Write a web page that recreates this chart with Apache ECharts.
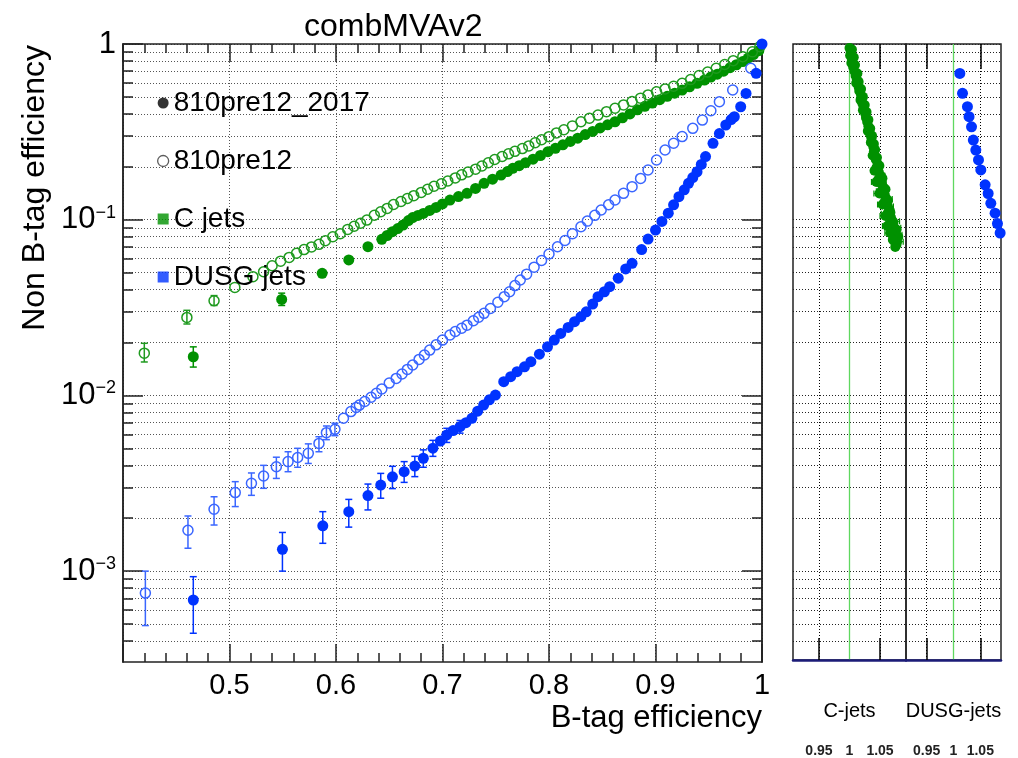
<!DOCTYPE html>
<html><head><meta charset="utf-8">
<script src="https://cdn.jsdelivr.net/npm/echarts@6/dist/echarts.min.js"></script>
<style>html,body{margin:0;padding:0;background:#fff}#c{width:1018px;height:758px}</style>
</head><body><div id="c"></div>
<script>
// ---------- data ----------
const xTickLabels = [0.5, 0.6, 0.7, 0.8, 0.9, 1];
const yMajor = [1e-3, 1e-2, 1e-1, 1];
const yMinor = [4e-4,5e-4,6e-4,7e-4,8e-4,9e-4, 2e-3,3e-3,4e-3,5e-3,6e-3,7e-3,8e-3,9e-3,
                0.02,0.03,0.04,0.05,0.06,0.07,0.08,0.09, 0.2,0.3,0.4,0.5,0.6,0.7,0.8,0.9];
const ratioTicks = [0.95, 1.05];
const ratioLabels = [0.95, 1, 1.05];
const legendNames = ['810pre12_2017', '810pre12', 'C jets', 'DUSG jets'];
const panelNames = ['C-jets', 'DUSG-jets'];

// C jets, 810pre12 (open)
const cOld = [[0.420,0.0174],[0.460,0.0278],[0.4855,0.0346],[0.505,0.0412],[0.522,0.0474],[0.532,0.0506],
 [0.540,0.0547],[0.548,0.0581],[0.556,0.0610],[0.563,0.0644],[0.570,0.0676],[0.577,0.0700],[0.584,0.0724],
 [0.590,0.0759],[0.597,0.0800],[0.604,0.0832],[0.611,0.0881],[0.617,0.0918],[0.623,0.0955],[0.629,0.0995],
 [0.636,0.106],[0.642,0.111],[0.648,0.116],[0.654,0.122],[0.661,0.127],[0.667,0.132],[0.673,0.137],
 [0.680,0.143],[0.686,0.149],[0.692,0.155],[0.699,0.160],[0.705,0.166],[0.712,0.173],[0.718,0.180],
 [0.724,0.187],[0.731,0.194],[0.737,0.202],[0.743,0.211],[0.749,0.220],[0.756,0.229],[0.762,0.237],
 [0.768,0.245],[0.775,0.254],[0.781,0.263],[0.787,0.274],[0.793,0.285],[0.800,0.297],[0.807,0.312],
 [0.814,0.325],[0.822,0.342],[0.830,0.361],[0.838,0.378],[0.846,0.394],[0.854,0.412],[0.862,0.431],
 [0.870,0.450],[0.878,0.470],[0.886,0.492],[0.893,0.513],[0.901,0.535],[0.909,0.555],[0.917,0.575],
 [0.925,0.597],[0.933,0.627],[0.941,0.661],[0.949,0.692],[0.957,0.728],[0.965,0.764],[0.973,0.804],
 [0.982,0.847],[0.991,0.902],[0.998,0.966]];
// C jets, 810pre12_2017 (filled)
const cNew = [[0.466,0.0166],[0.549,0.0352],[0.587,0.0495],[0.612,0.0590],[0.630,0.0702],[0.643,0.0773],
 [0.648,0.0813],[0.653,0.0855],[0.658,0.0891],[0.663,0.0933],[0.668,0.0989],[0.672,0.1028],[0.677,0.1057],
 [0.682,0.1086],[0.688,0.113],[0.694,0.1175],[0.700,0.123],[0.707,0.1294],[0.715,0.1355],[0.723,0.1413],
 [0.731,0.1507],[0.739,0.161],[0.747,0.170],[0.755,0.1795],[0.761,0.188],[0.766,0.196],[0.772,0.203],
 [0.778,0.211],[0.785,0.221],[0.792,0.232],[0.799,0.244],[0.806,0.255],[0.813,0.267],[0.820,0.279],
 [0.827,0.291],[0.834,0.305],[0.841,0.318],[0.848,0.333],[0.855,0.347],[0.862,0.361],[0.869,0.380],
 [0.876,0.400],[0.883,0.422],[0.890,0.442],[0.897,0.461],[0.904,0.482],[0.911,0.504],[0.918,0.525],
 [0.925,0.547],[0.932,0.571],[0.939,0.597],[0.946,0.624],[0.952,0.649],[0.958,0.673],[0.964,0.700],
 [0.970,0.733],[0.976,0.762],[0.982,0.794],[0.987,0.832],[0.992,0.871],[0.997,0.916]];
// DUSG jets, 810pre12 (open)
const lOld = [[0.421,7.5e-4],[0.461,1.71e-3],[0.4855,2.25e-3],[0.5054,2.80e-3],[0.5206,3.16e-3],[0.532,3.48e-3],
 [0.544,3.93e-3],[0.555,4.20e-3],[0.564,4.43e-3],[0.574,4.68e-3],[0.584,5.33e-3],[0.591,6.14e-3],[0.599,6.41e-3],
 [0.607,7.41e-3],[0.614,8.09e-3],[0.619,8.55e-3],[0.622,8.81e-3],[0.627,9.23e-3],[0.633,9.77e-3],[0.638,1.028e-2],
 [0.643,1.089e-2],[0.650,1.175e-2],[0.6565,1.250e-2],[0.662,1.324e-2],[0.667,1.406e-2],[0.672,1.489e-2],
 [0.678,1.603e-2],[0.683,1.698e-2],[0.688,1.811e-2],[0.694,1.941e-2],[0.700,2.065e-2],[0.707,2.208e-2],
 [0.712,2.312e-2],[0.718,2.410e-2],[0.723,2.512e-2],[0.729,2.661e-2],[0.734,2.786e-2],[0.739,2.931e-2],
 [0.745,3.126e-2],[0.752,3.388e-2],[0.758,3.648e-2],[0.763,3.890e-2],[0.768,4.217e-2],[0.773,4.539e-2],
 [0.779,4.898e-2],[0.786,5.370e-2],[0.793,5.861e-2],[0.800,6.383e-2],[0.808,7.015e-2],[0.815,7.621e-2],
 [0.822,8.318e-2],[0.830,9.120e-2],[0.836,9.817e-2],[0.843,0.1059],[0.849,0.1135],[0.856,0.1216],
 [0.862,0.1294],[0.870,0.1413],[0.878,0.1542],[0.886,0.1718],[0.893,0.1919],[0.901,0.2188],[0.909,0.2495],
 [0.917,0.2723],[0.925,0.2972],[0.935,0.3311],[0.944,0.3690],[0.952,0.4169],[0.960,0.4699],[0.9725,0.5470],
 [0.9895,0.7278]];
// DUSG jets, 810pre12_2017 (filled)
const lNew = [[0.466,6.85e-4],[0.5497,1.33e-3],[0.5876,1.81e-3],[0.612,2.18e-3],[0.630,2.69e-3],[0.642,3.09e-3],
 [0.653,3.44e-3],[0.664,3.68e-3],[0.674,3.96e-3],[0.682,4.39e-3],[0.691,5.01e-3],[0.698,5.50e-3],[0.704,5.96e-3],
 [0.710,6.31e-3],[0.7165,6.64e-3],[0.722,7.00e-3],[0.7276,7.41e-3],[0.733,8.13e-3],[0.7386,8.81e-3],
 [0.744,9.44e-3],[0.7497,1.005e-2],[0.7575,1.197e-2],[0.764,1.279e-2],[0.770,1.365e-2],[0.777,1.455e-2],
 [0.783,1.556e-2],[0.791,1.718e-2],[0.7986,1.892e-2],[0.805,2.065e-2],[0.811,2.254e-2],[0.818,2.438e-2],
 [0.824,2.630e-2],[0.830,2.805e-2],[0.835,2.992e-2],[0.841,3.311e-2],[0.846,3.648e-2],[0.852,3.890e-2],
 [0.857,4.159e-2],[0.865,4.645e-2],[0.872,5.248e-2],[0.878,5.649e-2],[0.887,6.761e-2],[0.893,7.762e-2],
 [0.900,8.730e-2],[0.906,9.772e-2],[0.912,0.1089],[0.917,0.1216],[0.922,0.1352],[0.927,0.1479],[0.931,0.1611],
 [0.935,0.1738],[0.939,0.1875],[0.943,0.2065],[0.947,0.2286],[0.954,0.2723],[0.960,0.3090],[0.966,0.3459],
 [0.971,0.3715],[0.974,0.3855],[0.980,0.4395],[0.985,0.5236],[0.9945,0.6808],[1.0,1.0]];

// vertical error bars: [x, low, high]
const cOldErr = [[0.420,0.0155,0.0198],[0.460,0.0255,0.0305],[0.4855,0.0325,0.0370]];
const cNewErr = [[0.466,0.0145,0.0189],[0.549,0.0325,0.0382]];
const lOldErr = [[0.421,4.9e-4,1.0e-3],[0.461,1.35e-3,2.06e-3],[0.4855,1.83e-3,2.65e-3],[0.5054,2.33e-3,3.23e-3],
 [0.5206,2.70e-3,3.62e-3],[0.532,2.96e-3,4.0e-3],[0.544,3.37e-3,4.45e-3],[0.555,3.68e-3,4.78e-3],
 [0.564,3.90e-3,5.0e-3],[0.574,4.10e-3,5.30e-3],[0.584,4.78e-3,5.82e-3],[0.591,5.6e-3,6.7e-3],[0.599,5.9e-3,6.95e-3]];
const lNewErr = [[0.466,4.43e-4,9.3e-4],[0.5497,1.0e-3,1.66e-3],[0.5876,1.44e-3,2.18e-3],[0.612,1.78e-3,2.56e-3],
 [0.630,2.23e-3,3.13e-3],[0.642,2.6e-3,3.6e-3],[0.653,2.95e-3,3.95e-3],[0.664,3.2e-3,4.2e-3],[0.674,3.45e-3,4.5e-3],
 [0.682,3.9e-3,4.9e-3],[0.691,4.5e-3,5.55e-3],[0.704,5.4e-3,6.5e-3],[0.7165,6.1e-3,7.2e-3]];

// ratio panels: [ratio, non-b efficiency]
const cRatio = [[1.000,0.95],[1.002,0.90],[1.001,0.86],[1.004,0.82],[1.003,0.78],[1.006,0.74],[1.008,0.70],
 [1.010,0.66],[1.012,0.63],[1.011,0.60],[1.015,0.57],[1.016,0.54],[1.019,0.51],[1.018,0.48],[1.021,0.46],
 [1.023,0.44],[1.022,0.42],[1.026,0.40],[1.027,0.38],[1.029,0.36],[1.031,0.34],[1.030,0.32],[1.034,0.305],
 [1.036,0.29],[1.035,0.275],[1.039,0.26],[1.040,0.245],[1.038,0.232],[1.043,0.22],[1.046,0.208],[1.044,0.197],
 [1.048,0.187],[1.051,0.178],[1.047,0.169],[1.053,0.16],[1.056,0.152],[1.052,0.145],[1.058,0.138],[1.061,0.131],
 [1.057,0.125],[1.063,0.119],[1.066,0.113],[1.062,0.108],[1.068,0.103],[1.071,0.098],[1.066,0.094],[1.073,0.09],
 [1.070,0.086],[1.076,0.082],[1.074,0.078],[1.078,0.075],[1.077,0.072],
 [1.004,0.93],[1.007,0.84],[1.009,0.76],[1.013,0.68],[1.015,0.61],[1.019,0.555],[1.022,0.50],[1.025,0.45],
 [1.028,0.41],[1.031,0.37],[1.034,0.33],[1.037,0.30],[1.040,0.27],[1.042,0.25],[1.045,0.226],[1.049,0.203],
 [1.041,0.19],[1.054,0.172],[1.044,0.164],[1.059,0.149],[1.049,0.141],[1.063,0.128],[1.054,0.122],[1.067,0.110],
 [1.059,0.105],[1.072,0.096],[1.062,0.092],[1.077,0.088],[1.067,0.084],[1.080,0.080],[1.071,0.077],[1.075,0.070]];
// horizontal error bars: [y, low, high]
const cRatioErr = [[0.197,1.038,1.050],[0.178,1.044,1.058],[0.160,1.046,1.060],[0.145,1.044,1.060],
 [0.131,1.052,1.070],[0.119,1.054,1.072],[0.108,1.052,1.072],[0.098,1.060,1.082],[0.090,1.062,1.084],
 [0.082,1.066,1.086],[0.075,1.068,1.088],[0.164,1.036,1.052],[0.141,1.040,1.058],[0.122,1.046,1.062],
 [0.105,1.050,1.068],[0.092,1.054,1.070],[0.084,1.058,1.076]];
const lRatio = [[1.0118,0.68],[1.0168,0.524],[1.026,0.44],[1.029,0.386],[1.0336,0.338],[1.037,0.284],
 [1.0416,0.249],[1.0466,0.219],[1.051,0.192],[1.059,0.158],[1.0646,0.141],[1.0696,0.124],[1.0776,0.109],
 [1.082,0.095],[1.087,0.084]];

// ---------- style ----------
const FONT = 'Liberation Sans, Arial, Helvetica, sans-serif';
const GREEN = '#009100', GREEN_O = '#1f9a1f', BLUE = '#0033ff', BLUE_O = '#3a66ff';
const FRAME = '#222';
const DOT = {color: '#555', type: [1, 2], width: 1};
const Y_MIN = 3.04e-4, Y_MAX = 1;
const Y_MIN_R = 3.12e-4;

function vErr(color) {
  return function (params, api) {
    const x = api.value(0), lo = api.value(1), hi = api.value(2);
    const a = api.coord([x, lo]), b = api.coord([x, hi]);
    const w = 3.5, st = {stroke: color, lineWidth: 1.5};
    return {type: 'group', children: [
      {type: 'line', shape: {x1: a[0], y1: a[1], x2: b[0], y2: b[1]}, style: st},
      {type: 'line', shape: {x1: a[0]-w, y1: a[1], x2: a[0]+w, y2: a[1]}, style: st},
      {type: 'line', shape: {x1: b[0]-w, y1: b[1], x2: b[0]+w, y2: b[1]}, style: st}
    ]};
  };
}
function hErr(color) {
  return function (params, api) {
    const y = api.value(0), lo = api.value(1), hi = api.value(2);
    const a = api.coord([lo, y]), b = api.coord([hi, y]);
    const w = 3, st = {stroke: color, lineWidth: 1.2};
    return {type: 'group', children: [
      {type: 'line', shape: {x1: a[0], y1: a[1], x2: b[0], y2: b[1]}, style: st},
      {type: 'line', shape: {x1: a[0], y1: a[1]-w, x2: a[0], y2: a[1]+w}, style: st},
      {type: 'line', shape: {x1: b[0], y1: b[1]-w, x2: b[0], y2: b[1]+w}, style: st}
    ]};
  };
}

const chart = echarts.init(document.getElementById('c'), null, {renderer: 'canvas'});

const mainX = {
  type: 'value', gridIndex: 0, min: 0.4, max: 1.0, interval: 0.1,
  axisLine: {show: true, onZero: false, lineStyle: {color: FRAME, width: 1.5}},
  axisTick: {show: true, inside: true, length: 18, lineStyle: {color: FRAME, width: 1.5}},
  minorTick: {show: true, splitNumber: 5, length: 9, lineStyle: {color: FRAME, width: 1.5}},
  splitLine: {show: true, lineStyle: DOT},
  axisLabel: {show: true, showMinLabel: false, fontSize: 29, fontFamily: FONT, color: '#000', margin: 9,
    formatter: v => (xTickLabels.some(t => Math.abs(t - v) < 1e-6) ? String(+v.toFixed(1)) : '')}
};
const mainXTop = Object.assign({}, mainX, {position: 'top', axisLabel: {show: false}, splitLine: {show: false}});

function yAx(pos, ticks, len, labels, split) {
  return {
    type: 'log', gridIndex: 0, position: pos, min: Y_MIN, max: Y_MAX,
    axisLine: {show: true, onZero: false, lineStyle: {color: FRAME, width: 1.5}},
    axisTick: {show: true, inside: true, length: len, customValues: ticks, lineStyle: {color: FRAME, width: 1.5}},
    minorTick: {show: false},
    splitLine: {show: split, lineStyle: DOT},
    axisLabel: labels ? {
      show: true, customValues: yMajor, margin: 7, fontFamily: FONT, color: '#000',
      formatter: v => (v > 0.5 ? '{b|1}' : '{b|10}{s|\u2212' + Math.round(-Math.log10(v)) + '}'),
      rich: {b: {fontSize: 31, fontFamily: FONT, color: '#000', lineHeight: 32},
             s: {fontSize: 18, fontFamily: FONT, color: '#000', lineHeight: 13, verticalAlign: 'top'}}
    } : {show: false}
  };
}

function ratioGrid(gi, min, max, name) {
  const xs = [
    {type: 'value', gridIndex: gi, min: min, max: max, position: 'bottom',
     axisLine: {show: true, onZero: false, lineStyle: {color: '#1c1c78', width: 2.5}},
     axisTick: {show: true, inside: true, length: 22, customValues: ratioTicks, lineStyle: {color: '#000', width: 1.5}},
     splitLine: {show: true, lineStyle: {color: '#000', type: [1, 2], width: 1}},
     axisLabel: {show: true, customValues: ratioLabels, margin: 84, fontSize: 14, fontWeight: 'bold', fontFamily: FONT, color: '#222',
       formatter: v => String(v)}},
    {type: 'value', gridIndex: gi, min: min, max: max, position: 'top',
     axisLine: {show: false},
     axisTick: {show: true, inside: true, length: 25, customValues: ratioTicks, lineStyle: {color: '#000', width: 1.5}},
     splitLine: {show: false}, axisLabel: {show: false}},
    {type: 'value', gridIndex: gi, min: min, max: max, position: 'bottom',
     axisLine: {show: false}, axisTick: {show: false, customValues: [1]},
     splitLine: {show: true, lineStyle: {color: '#5fd85f', type: 'solid', width: 1.3}}, axisLabel: {show: false},
     name: name, nameLocation: 'middle', nameGap: 41, nameMoveOverlap: false,
     nameTextStyle: {fontSize: 20, fontFamily: FONT, color: '#000'}}
  ];
  const y = {type: 'log', gridIndex: gi, min: Y_MIN_R, max: Y_MAX,
     axisLine: {show: false}, axisTick: {show: false, customValues: yMajor.concat(yMinor)},
     splitLine: {show: true, lineStyle: {color: '#222', type: [1, 2], width: 1}}, axisLabel: {show: false}};
  return {xs, y};
}
const rC = ratioGrid(1, 0.9074, 1.0926, panelNames[0]);
const rL = ratioGrid(2, 0.9114, 1.0886, panelNames[1]);

const scatterBase = {type: 'scatter', xAxisIndex: 0, yAxisIndex: 0, clip: false, silent: true, symbol: 'circle'};

const option = {
  animation: false,
  backgroundColor: '#fff',
  textStyle: {fontFamily: FONT},
  title: {text: 'combMVAv2', left: 299, top: 6,
          textStyle: {fontSize: 32, fontWeight: 'normal', color: '#000', fontFamily: FONT}},
  grid: [
    {left: 123, top: 44, width: 639, height: 618, containLabel: false},
    {left: 793, top: 44, width: 113, height: 616, show: true, borderColor: FRAME, borderWidth: 1.5, backgroundColor: 'transparent'},
    {left: 906, top: 44, width: 95, height: 616, show: true, borderColor: FRAME, borderWidth: 1.5, backgroundColor: 'transparent'}
  ],
  xAxis: [mainX, mainXTop].concat(rC.xs, rL.xs),
  yAxis: [
    yAx('left', yMajor, 20, true, true),
    yAx('left', yMinor, 10, false, true),
    yAx('right', yMajor, 20, false, false),
    yAx('right', yMinor, 10, false, false),
    rC.y, rL.y
  ],
  legend: {
    left: 152, top: 84, orient: 'vertical', itemWidth: 11, itemHeight: 11, itemGap: 30,
    selectedMode: false,
    textStyle: {fontSize: 28, fontFamily: FONT, color: '#000', lineHeight: 28},
    data: [
      {name: legendNames[0], icon: 'circle', itemStyle: {color: '#000'}},
      {name: legendNames[1], icon: 'circle', itemStyle: {color: 'rgba(0,0,0,0)', borderColor: '#333', borderWidth: 1.3}},
      {name: legendNames[2], icon: 'rect', itemStyle: {color: GREEN}},
      {name: legendNames[3], icon: 'rect', itemStyle: {color: BLUE}}
    ]
  },
  graphic: [
    {type: 'text', x: 35, y: 45, rotation: Math.PI / 2, silent: true,
     style: {text: 'Non B-tag efficiency', font: '32px ' + FONT, fill: '#000', textAlign: 'right', textVerticalAlign: 'middle'}},
    {type: 'text', x: 762, y: 718, silent: true,
     style: {text: 'B-tag efficiency', font: '31px ' + FONT, fill: '#000', textAlign: 'right', textVerticalAlign: 'middle'}}
  ],
  series: [
    {type: 'custom', xAxisIndex: 0, yAxisIndex: 0, renderItem: vErr(GREEN_O), data: cOldErr, encode: {x: 0, y: [1, 2]}, silent: true, clip: false},
    {type: 'custom', xAxisIndex: 0, yAxisIndex: 0, renderItem: vErr(GREEN), data: cNewErr, encode: {x: 0, y: [1, 2]}, silent: true, clip: false},
    {type: 'custom', xAxisIndex: 0, yAxisIndex: 0, renderItem: vErr(BLUE_O), data: lOldErr, encode: {x: 0, y: [1, 2]}, silent: true, clip: false},
    {type: 'custom', xAxisIndex: 0, yAxisIndex: 0, renderItem: vErr(BLUE), data: lNewErr, encode: {x: 0, y: [1, 2]}, silent: true, clip: false},
    Object.assign({}, scatterBase, {name: 'cNew', data: cNew, symbolSize: 11, itemStyle: {color: GREEN, opacity: 1}}),
    Object.assign({}, scatterBase, {name: 'cOld', data: cOld, symbolSize: 10,
      itemStyle: {color: 'rgba(0,0,0,0)', borderColor: GREEN_O, borderWidth: 1.5, opacity: 1}}),
    Object.assign({}, scatterBase, {name: 'lOld', data: lOld, symbolSize: 10,
      itemStyle: {color: 'rgba(0,0,0,0)', borderColor: BLUE_O, borderWidth: 1.5, opacity: 1}}),
    Object.assign({}, scatterBase, {name: 'lNew', data: lNew, symbolSize: 11, itemStyle: {color: BLUE, opacity: 1}}),
    // legend-only entries
    {type: 'scatter', name: legendNames[0], data: [], xAxisIndex: 0, yAxisIndex: 0, itemStyle: {color: '#000'}},
    {type: 'scatter', name: legendNames[1], data: [], xAxisIndex: 0, yAxisIndex: 0, itemStyle: {color: '#333'}},
    {type: 'scatter', name: legendNames[2], data: [], xAxisIndex: 0, yAxisIndex: 0, itemStyle: {color: GREEN}},
    {type: 'scatter', name: legendNames[3], data: [], xAxisIndex: 0, yAxisIndex: 0, itemStyle: {color: BLUE}},
    // ratio panels
    {type: 'custom', xAxisIndex: 2, yAxisIndex: 4, renderItem: hErr(GREEN), data: cRatioErr, encode: {y: 0, x: [1, 2]}, silent: true, clip: false},
    {type: 'scatter', xAxisIndex: 2, yAxisIndex: 4, data: cRatio, symbol: 'circle', symbolSize: 10, clip: false, silent: true,
     itemStyle: {color: GREEN, opacity: 1}},
    {type: 'scatter', xAxisIndex: 5, yAxisIndex: 5, data: lRatio, symbol: 'circle', symbolSize: 11, clip: false, silent: true,
     itemStyle: {color: BLUE, opacity: 1}}
  ]
};
chart.setOption(option);
</script>
</body></html>
